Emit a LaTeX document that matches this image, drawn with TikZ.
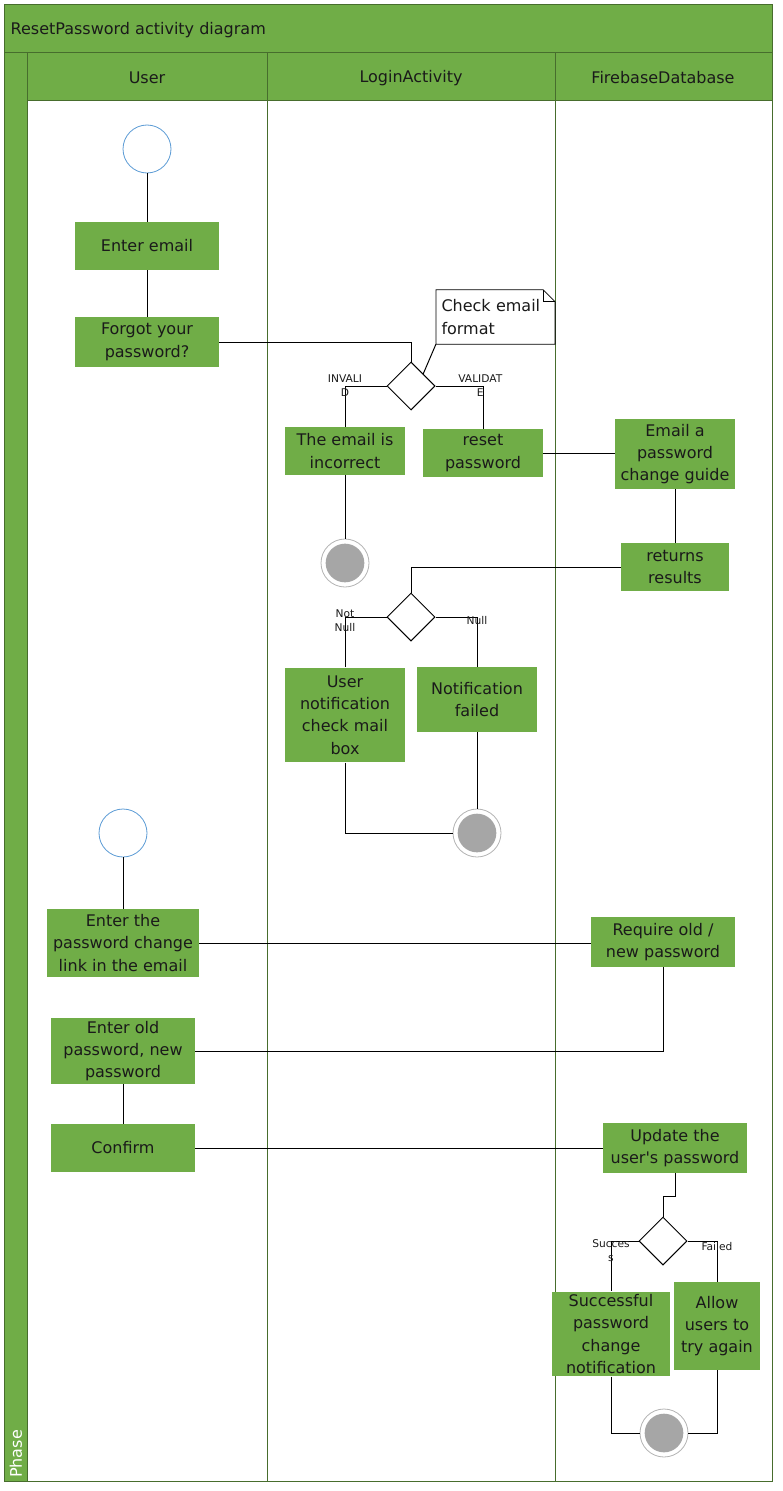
\documentclass[tikz,border=0pt]{standalone}
\usepackage{fontspec}
\setmainfont{DejaVu Sans}
\usetikzlibrary{positioning,calc,shapes.geometric}
\definecolor{leaf}{HTML}{70AD47}
\definecolor{leafdark}{HTML}{476D2D}
\definecolor{ink}{HTML}{1A1A1A}
\definecolor{startblue}{HTML}{5B9BD5}
\definecolor{endgray}{HTML}{A6A6A6}
\definecolor{ringgray}{HTML}{B3B3B3}
\tikzset{
  every node/.style={font=\fontsize{12}{16.8}\selectfont,text=ink},
  act/.style={fill=leaf,draw=none,align=center,inner sep=2pt},
  decision/.style={diamond,draw=black,fill=white,line width=0.75pt,minimum width=36pt,minimum height=36pt,inner sep=0pt},
  startnode/.style={circle,draw=startblue,fill=white,line width=0.6pt,minimum size=36pt,inner sep=0pt},
  endnode/.style={circle,draw=ringgray,fill=white,line width=0.6pt,minimum size=36pt,inner sep=0pt,
    path picture={\fill[endgray] (path picture bounding box.center) circle (14.5pt);}},
  notebox/.style={align=left,inner xsep=4pt,inner ysep=3pt,text width=81pt,minimum height=40.5pt},
  notedraw/.style={draw=black,fill=white,line width=0.6pt},
  lbl/.style={font=\fontsize{8}{10.5}\selectfont,align=center,inner sep=0pt},
  flow/.style={draw=black,line width=0.75pt},
  lane/.style={draw=leafdark,line width=0.75pt},
  band/.style={fill=leaf,draw=leafdark,line width=0.75pt}
}
\begin{document}
\begin{tikzpicture}[x=0.75pt,y=-0.75pt]
  \useasboundingbox (0,0) rectangle (782,1491);
  % swimlane frame
  \path[band] (4,5) rectangle (772,53);
  \path[band] (4,53) rectangle (27,1481);
  \path[band] (27,53) rectangle (772,101);
  \draw[lane] (27,101) rectangle (772,1481);
  \draw[lane] (267,53) -- (267,1481);
  \draw[lane] (555,53) -- (555,1481);
  \node[anchor=west] (title) at (6,30) {ResetPassword activity diagram};
  \node (user) at (147,78) {User};
  \node (login) at (411,78) {LoginActivity};
  \node (firebase) at (663,78) {FirebaseDatabase};
  \node[rotate=90,text=white] (phase) at (16,1454) {Phase};

  % first part: request reset
  \node[startnode] (start1) at (147,149) {};
  \node[act,minimum width=108pt,minimum height=36pt] (email) at (147,246) {Enter email};
  \node[act,minimum width=108pt,minimum height=37.5pt] (forgot) at (147,342) {Forgot your\\password?};
  \node[decision] (dec1) at (411,386) {};
  \node[notebox] (note) at (495.5,317) {Check email\\format};
  \node[act,minimum width=90pt,minimum height=36pt] (incorrect) at (345,451) {The email is\\incorrect};
  \node[act,minimum width=90pt,minimum height=36pt] (reset) at (483,453) {reset\\password};
  \node[act,minimum width=90pt,minimum height=52pt] (guide) at (675,454) {Email a\\password\\change guide};
  \node[endnode] (end1) at (345,563) {};
  \node[act,minimum width=81pt,minimum height=36pt] (returns) at (675,567) {returns\\results};
  \node[decision] (dec2) at (411,617) {};
  \node[act,minimum width=90pt,minimum height=71pt] (notify) at (345,715) {User\\notification\\check mail\\box};
  \node[act,minimum width=90pt,minimum height=49pt] (failed) at (477,699.5) {Notification\\failed};
  \node[endnode] (end2) at (477,833) {};

  % second part: change password
  \node[startnode] (start2) at (123,833) {};
  \node[act,minimum width=114pt,minimum height=51pt] (enterlink) at (123,943) {Enter the\\password change\\link in the email};
  \node[act,minimum width=108pt,minimum height=37.5pt] (require) at (663,942) {Require old /\\new password};
  \node[act,minimum width=108pt,minimum height=43.5pt] (enterold) at (123,1051) {Enter old\\password, new\\password};
  \node[act,minimum width=108pt,minimum height=36pt] (confirm) at (123,1148) {Confirm};
  \node[act,minimum width=108pt,minimum height=37.5pt] (update) at (675,1148) {Update the\\user\textquotesingle s password};
  \node[decision] (dec3) at (663,1241) {};
  \node[act,minimum width=88.5pt,minimum height=60pt] (successful) at (611,1334) {Successful\\password\\change\\notification};
  \node[act,minimum width=64pt,minimum height=66pt] (allow) at (717,1326) {Allow\\users to\\try again};
  \node[endnode] (end3) at (664,1433) {};

  % note outline
  \draw[notedraw] (note.south west) -- (note.north west) -- ([xshift=-9pt]note.north east)
    -- ([yshift=-9pt]note.north east) -- (note.south east) -- cycle;
  \draw[notedraw,fill=none] ([xshift=-9pt]note.north east) |- ([yshift=-9pt]note.north east);
  \node[notebox] at (note) {Check email\\format};

  % connectors
  \draw[flow] (start1) -- (email);
  \draw[flow] (email) -- (forgot);
  \draw[flow] (forgot.east) -| (dec1.north);
  \draw[flow] (note.south west) -- ($(dec1.north)!0.5!(dec1.east)$);
  \draw[flow] (dec1.west) -| (incorrect.north);
  \draw[flow] (dec1.east) -| (reset.north);
  \draw[flow] (incorrect) -- (end1);
  \draw[flow] (reset.east) -- (reset.east -| guide.west);
  \draw[flow] (guide) -- (returns);
  \draw[flow] (returns.west) -| (dec2.north);
  \draw[flow] (dec2.west) -| (notify.north);
  \draw[flow] (dec2.east) -| (failed.north);
  \draw[flow] (failed) -- (end2);
  \draw[flow] (notify.south) |- (end2.west);
  \draw[flow] (start2) -- (enterlink);
  \draw[flow] (enterlink.east) -- (enterlink.east -| require.west);
  \draw[flow] (require.south) |- (enterold.east);
  \draw[flow] (enterold) -- (confirm);
  \draw[flow] (confirm.east) -- (confirm.east -| update.west);
  \draw[flow] (update.south) -- ++(0,23) -| (dec3.north);
  \draw[flow] (dec3.west) -| (successful.north);
  \draw[flow] (dec3.east) -| (allow.north);
  \draw[flow] (successful.south) |- (end3.west);
  \draw[flow] (allow.south) |- (end3.east);

  % guard labels
  \node[lbl] (invalid) at (dec1.west -| incorrect.north) {INVALI\\D};
  \node[lbl,xshift=-2pt] (valid) at (dec1.east -| reset.north) {VALIDAT\\E};
  \node[lbl,yshift=-3pt] (notnull) at (dec2.west -| notify.north) {Not\\Null};
  \node[lbl,yshift=-3pt] (null) at (dec2.east -| failed.north) {Null};
  \node[lbl,yshift=-7.5pt] (success) at (dec3.west -| successful.north) {Succes\\s};
  \node[lbl,yshift=-4.5pt] (fail) at (dec3.east -| allow.north) {Failed};
\end{tikzpicture}
\end{document}
